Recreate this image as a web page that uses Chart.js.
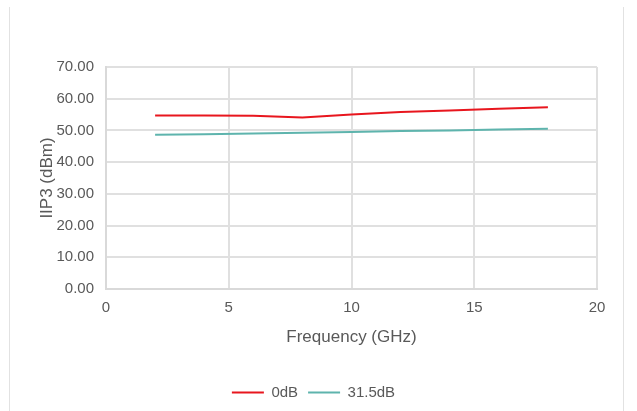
<!DOCTYPE html>
<html>
<head>
<meta charset="utf-8">
<script src="https://cdn.jsdelivr.net/npm/chart.js"></script>
<style>
    body { margin: 0; background: #fff; }
    #frame {
        position: absolute; left: 9px; top: 7px; width: 613px; height: 404px;
        border-left: 1px solid #e2e2e2; border-right: 1px solid #e2e2e2;
    }
    #wrap { position: absolute; left: 0; top: 0; width: 637px; height: 411px; }
</style>
</head>
<body>
<div id="frame"></div>
<div id="wrap"><canvas id="chart"></canvas></div>
<script>
// data (frequency in GHz, IIP3 in dBm)
const frequencies = [2, 4, 6, 8, 10, 12, 14, 16, 18];
const iip3At0dB = [54.7, 54.7, 54.6, 54.1, 55.0, 55.8, 56.3, 56.8, 57.3];
const iip3At31_5dB = [48.6, 48.8, 49.0, 49.3, 49.5, 49.8, 50.0, 50.3, 50.5];
const seriesNames = ['0dB', '31.5dB'];

const fontFamily = '"Liberation Sans Narrow", "Liberation Sans", Arial, sans-serif';
const textColor = '#595959';
const gridColor = '#e0e0e0';

function toPoints(values) {
    return frequencies.map((f, i) => ({ x: f, y: values[i] }));
}

const ctx = document.getElementById('chart').getContext('2d');
new Chart(ctx, {
    type: 'line',
    data: {
        datasets: [{
            label: seriesNames[0],
            data: toPoints(iip3At0dB),
            borderColor: '#e8161e',
            backgroundColor: '#e8161e',
            borderWidth: 2,
            pointRadius: 0,
            fill: false
        }, {
            label: seriesNames[1],
            data: toPoints(iip3At31_5dB),
            borderColor: '#5eb4ad',
            backgroundColor: '#5eb4ad',
            borderWidth: 2,
            pointRadius: 0,
            fill: false
        }]
    },
    options: {
        responsive: true,
        maintainAspectRatio: false,
        animation: false,
        layout: { padding: { top: 67, right: 40, left: 30, bottom: 1 } },
        plugins: {
            tooltip: { enabled: false },
            legend: {
                position: 'bottom',
                labels: {
                    usePointStyle: true,
                    pointStyle: 'line',
                    pointStyleWidth: 32,
                    boxHeight: 4,
                    padding: 10,
                    color: textColor,
                    font: { family: fontFamily, size: 15 }
                }
            }
        },
        scales: {
            x: {
                type: 'linear',
                min: 0,
                max: 20,
                ticks: { stepSize: 5, padding: 10, color: textColor, font: { family: fontFamily, size: 15 } },
                grid: { color: gridColor, lineWidth: 2, drawTicks: false },
                border: { color: '#d9d9d9', width: 2 },
                title: {
                    display: true,
                    text: 'Frequency (GHz)',
                    color: textColor,
                    padding: { top: 0, bottom: 27 },
                    font: { family: fontFamily, size: 17 }
                },
                afterFit: (scale) => { scale.height = 86; }
            },
            y: {
                min: 0,
                max: 70,
                ticks: {
                    stepSize: 10,
                    padding: 12,
                    color: textColor,
                    font: { family: fontFamily, size: 15 },
                    callback: (v) => v.toFixed(2)
                },
                grid: { color: gridColor, lineWidth: 2, drawTicks: false },
                border: { color: '#d9d9d9', width: 2 },
                title: {
                    display: true,
                    text: 'IIP3 (dBm)',
                    color: textColor,
                    padding: { top: 7, bottom: 0 },
                    font: { family: fontFamily, size: 17 }
                },
                afterFit: (scale) => { scale.width = 76; }
            }
        }
    }
});
</script>
</body>
</html>
